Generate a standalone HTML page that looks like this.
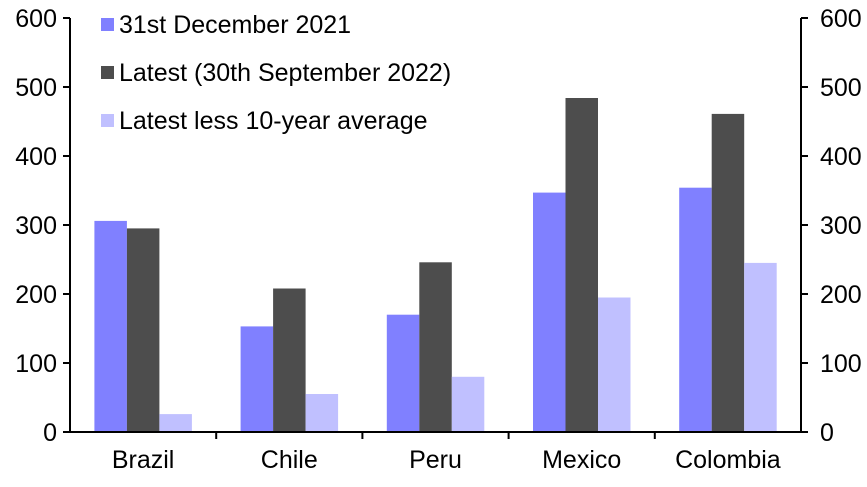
<!DOCTYPE html>
<html><head><style>body{margin:0;background:#fff}</style></head><body>
<svg width="867" height="482" xmlns="http://www.w3.org/2000/svg" font-family="Liberation Sans, sans-serif" font-size="25" fill="#000">
<rect width="867" height="482" fill="#fff"/>
<g id="bars">
<rect x="94.4" y="220.9" width="32.5" height="211.1" fill="#8080ff"/>
<rect x="126.9" y="228.4" width="32.5" height="203.6" fill="#4d4d4d"/>
<rect x="159.4" y="414.1" width="32.5" height="17.9" fill="#c0c0ff"/>
<rect x="240.6" y="326.4" width="32.5" height="105.6" fill="#8080ff"/>
<rect x="273.1" y="288.5" width="32.5" height="143.5" fill="#4d4d4d"/>
<rect x="305.6" y="394" width="32.5" height="38" fill="#c0c0ff"/>
<rect x="386.8" y="314.7" width="32.5" height="117.3" fill="#8080ff"/>
<rect x="419.3" y="262.3" width="32.5" height="169.7" fill="#4d4d4d"/>
<rect x="451.8" y="376.8" width="32.5" height="55.2" fill="#c0c0ff"/>
<rect x="533" y="192.6" width="32.5" height="239.4" fill="#8080ff"/>
<rect x="565.5" y="98" width="32.5" height="334" fill="#4d4d4d"/>
<rect x="598" y="297.5" width="32.5" height="134.5" fill="#c0c0ff"/>
<rect x="679.2" y="187.7" width="32.5" height="244.3" fill="#8080ff"/>
<rect x="711.7" y="113.9" width="32.5" height="318.1" fill="#4d4d4d"/>
<rect x="744.2" y="262.9" width="32.5" height="169.1" fill="#c0c0ff"/>
</g>
<g stroke="#000" stroke-width="2">
<line x1="70" y1="18" x2="70" y2="433"/>
<line x1="801" y1="18" x2="801" y2="433"/>
<line x1="63" y1="432" x2="808" y2="432"/>
<line x1="63" y1="363" x2="70" y2="363"/><line x1="63" y1="294" x2="70" y2="294"/><line x1="63" y1="225" x2="70" y2="225"/><line x1="63" y1="156" x2="70" y2="156"/><line x1="63" y1="87" x2="70" y2="87"/><line x1="63" y1="18" x2="70" y2="18"/>
<line x1="801" y1="363" x2="808" y2="363"/><line x1="801" y1="294" x2="808" y2="294"/><line x1="801" y1="225" x2="808" y2="225"/><line x1="801" y1="156" x2="808" y2="156"/><line x1="801" y1="87" x2="808" y2="87"/><line x1="801" y1="18" x2="808" y2="18"/>
<line x1="216.2" y1="432" x2="216.2" y2="439"/><line x1="362.4" y1="432" x2="362.4" y2="439"/><line x1="508.6" y1="432" x2="508.6" y2="439"/><line x1="654.8" y1="432" x2="654.8" y2="439"/>
</g>
<g text-anchor="end">
<text x="57" y="441">0</text><text x="57" y="372">100</text><text x="57" y="303">200</text><text x="57" y="234">300</text><text x="57" y="165">400</text><text x="57" y="96">500</text><text x="57" y="27">600</text>
</g>
<g>
<text x="820" y="441">0</text><text x="820" y="372">100</text><text x="820" y="303">200</text><text x="820" y="234">300</text><text x="820" y="165">400</text><text x="820" y="96">500</text><text x="820" y="27">600</text>
</g>
<g text-anchor="middle">
<text x="143.1" y="468">Brazil</text><text x="289.3" y="468">Chile</text><text x="435.5" y="468">Peru</text><text x="581.7" y="468">Mexico</text><text x="727.9" y="468">Colombia</text>
</g>
<rect x="101" y="18" width="13" height="13" fill="#8080ff"/>
<rect x="101" y="66" width="13" height="13" fill="#4d4d4d"/>
<rect x="101" y="114" width="13" height="13" fill="#c0c0ff"/>
<text x="119" y="33">31st December 2021</text>
<text x="119" y="81">Latest (30th September 2022)</text>
<text x="119" y="129">Latest less 10-year average</text>
</svg>
</body></html>
